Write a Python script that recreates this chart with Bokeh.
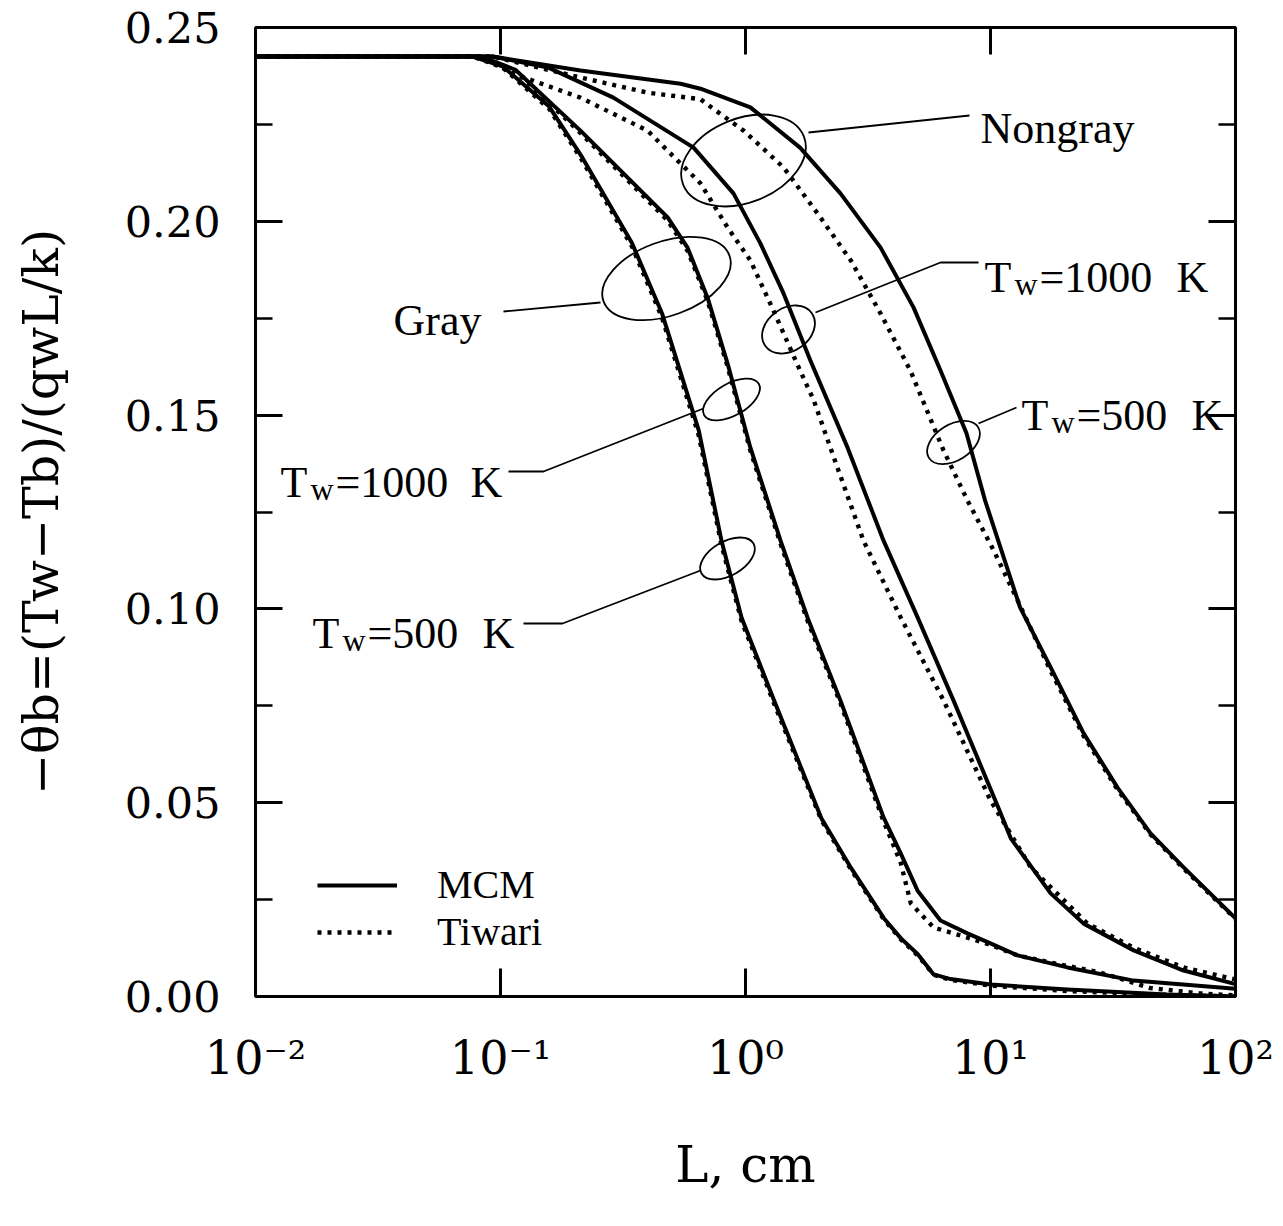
import math
from bokeh.plotting import figure
from bokeh.models import (LogAxis, LinearAxis, FixedTicker, NumeralTickFormatter,
                          CustomJSTickFormatter, Label, Legend, LegendItem)
from bokeh.embed import file_html
from bokeh.resources import INLINE

# ---------------- data: -theta_b versus L (cm) ----------------
# Gray medium, Tw = 500 K
L_gray500_mcm = [0.01, 0.077, 0.102, 0.158, 0.215, 0.344, 0.456, 0.644, 0.798, 0.964, 1.31,
                 2.04, 2.70, 3.67, 4.31, 5.05, 5.86, 6.87, 10.0, 20.6, 52.5, 100.0]
th_gray500_mcm = [0.2425, 0.2425, 0.2400, 0.2296, 0.2166, 0.1944, 0.1763, 0.1461, 0.1176, 0.0977,
                  0.0763, 0.0460, 0.0331, 0.0202, 0.0150, 0.0109, 0.0057, 0.0045, 0.0031, 0.0018,
                  0.0005, 0.0000]
L_gray500_tiw = [0.01, 0.077, 0.102, 0.158, 0.215, 0.344, 0.456, 0.644, 0.798, 0.964, 1.31,
                 2.04, 2.70, 3.67, 4.31, 5.05, 5.86, 6.87, 10.0, 20.6, 52.5, 100.0]
th_gray500_tiw = [0.2425, 0.2425, 0.2397, 0.2290, 0.2158, 0.1935, 0.1752, 0.1448, 0.1165, 0.0968,
                  0.0755, 0.0455, 0.0327, 0.0199, 0.0147, 0.0106, 0.0056, 0.0043, 0.0028, 0.0014,
                  0.0004, 0.0000]
# Gray medium, Tw = 1000 K
L_gray1000_mcm = [0.01, 0.084, 0.115, 0.212, 0.340, 0.481, 0.580, 0.700, 0.845, 1.047, 1.39, 1.79,
                  2.44, 3.66, 4.30, 5.04, 6.25, 8.05, 10.0, 12.9, 20.6, 38.4, 100.0]
th_gray1000_mcm = [0.2425, 0.2425, 0.2391, 0.2234, 0.2105, 0.2010, 0.1932, 0.1803, 0.1633, 0.1416,
                   0.1176, 0.0978, 0.0764, 0.0462, 0.0369, 0.0273, 0.0196, 0.0163, 0.0137, 0.0106,
                   0.0075, 0.0041, 0.0020]
L_gray1000_tiw = [0.01, 0.084, 0.115, 0.212, 0.340, 0.481, 0.580, 0.700, 0.845, 1.047, 1.39, 1.79,
                  2.44, 3.66, 4.30, 4.73, 5.86, 8.05, 10.0, 12.9, 17.5, 28.0, 44.7, 71.4, 100.0]
th_gray1000_tiw = [0.2425, 0.2425, 0.2388, 0.2228, 0.2098, 0.2002, 0.1924, 0.1795, 0.1625, 0.1408,
                   0.1168, 0.0970, 0.0757, 0.0452, 0.0345, 0.0240, 0.0178, 0.0152, 0.0133, 0.0106,
                   0.0088, 0.0062, 0.0022, 0.0008, 0.0003]
# Nongray medium, Tw = 1000 K
L_ng1000_mcm = [0.01, 0.093, 0.156, 0.289, 0.614, 0.893, 1.15, 1.43, 1.84, 2.61, 3.66, 5.04, 7.06,
                10.8, 12.1, 17.6, 24.0, 38.4, 61.4, 100.0]
th_ng1000_mcm = [0.2425, 0.2425, 0.2397, 0.2319, 0.2190, 0.2072, 0.1943, 0.1814, 0.1641, 0.1416,
                 0.1176, 0.0978, 0.0764, 0.0485, 0.0408, 0.0266, 0.0188, 0.0119, 0.0067, 0.0032]
L_ng1000_tiw = [0.01, 0.084, 0.113, 0.212, 0.398, 0.655, 0.845, 1.047, 1.30, 1.67, 1.90, 2.22, 3.03,
                4.30, 6.43, 10.0, 14.6, 24.9, 38.4, 61.4, 100.0]
th_ng1000_tiw = [0.2425, 0.2425, 0.2381, 0.2319, 0.2234, 0.2098, 0.1984, 0.1899, 0.1770, 0.1615,
                 0.1538, 0.1416, 0.1176, 0.0978, 0.0764, 0.0506, 0.0333, 0.0188, 0.0126, 0.0075,
                 0.0044]
# Nongray medium, Tw = 500 K
L_ng500_mcm = [0.01, 0.093, 0.212, 0.543, 0.655, 1.047, 1.67, 2.44, 3.56, 4.85, 6.25, 7.98, 9.5,
               13.2, 17.6, 24.0, 33.0, 45.0, 61.4, 100.0]
th_ng500_mcm = [0.2425, 0.2425, 0.2389, 0.2355, 0.2342, 0.2294, 0.2190, 0.2072, 0.1932, 0.1778,
                0.1615, 0.1453, 0.1280, 0.1004, 0.0849, 0.0679, 0.0539, 0.0421, 0.0333, 0.0202]
L_ng500_tiw = [0.01, 0.093, 0.212, 0.398, 0.655, 0.740, 0.982, 1.43, 1.97, 2.69, 3.56, 4.71, 6.43,
               8.05, 10.3, 12.9, 17.6, 24.0, 33.0, 45.0, 61.4, 100.0]
th_ng500_tiw = [0.2425, 0.2425, 0.2371, 0.2332, 0.2315, 0.2290, 0.2234, 0.2139, 0.2020, 0.1899,
                0.1762, 0.1615, 0.1409, 0.1280, 0.1151, 0.1022, 0.0840, 0.0672, 0.0534, 0.0418,
                0.0330, 0.0200]

x_label_ticks = [0.01, 0.1, 1.0, 10.0, 100.0]
x_tick_labels = ["10\u207b\u00b2", "10\u207b\u00b9", "10\u2070", "10\u00b9", "10\u00b2"]
x_inner_ticks = [0.1, 1.0, 10.0]
y_major_ticks = [0.0, 0.05, 0.10, 0.15, 0.20, 0.25]
y_minor_ticks = [0.025, 0.075, 0.125, 0.175, 0.225]
legend_labels = ["MCM", "Tiwari"]
y_title = "\u2212\u03b8b=(Tw\u2212Tb)/(qwL/k)"
x_title = "L, cm"

# ---------------- figure ----------------
W, H = 1275, 1218
FX0, FX1, FY0, FY1 = 255, 1235, 27, 996      # frame edges (pixels, as in the reference)


def Lx(px):   # reference pixel column -> L
    return 10 ** ((px - FX0) / (FX1 - FX0) * 4 - 2)


def Ty(py):   # reference pixel row -> theta
    return (FY1 - py) / (FY1 - FY0) * 0.25


p = figure(width=W, height=H, x_axis_type="log", x_range=(0.01, 100), y_range=(0, 0.25),
           output_backend="svg", toolbar_location=None,
           min_border_left=FX0, min_border_right=W - FX1,
           min_border_top=FY0, min_border_bottom=H - FY1)
p.grid.visible = False
p.background_fill_color = "white"
p.border_fill_color = "white"
p.outline_line_color = "black"
p.outline_line_width = 3

blank = CustomJSTickFormatter(code="return ''")

# bottom axis
xb = p.xaxis[0]
xb.ticker = FixedTicker(ticks=x_label_ticks, minor_ticks=[])
xb.formatter = CustomJSTickFormatter(args=dict(labels=x_tick_labels),
                                     code="return labels[Math.round(Math.log10(tick)) + 2]")
xb.axis_line_color = None
xb.major_tick_in = 28
xb.major_tick_out = 0
xb.minor_tick_in = 0
xb.minor_tick_out = 0
xb.major_tick_line_width = 3
xb.major_label_standoff = 34
xb.major_label_text_font = "DejaVu Serif"
xb.major_label_text_font_size = "46px"
xb.major_label_text_color = "black"
xb.axis_label = x_title
xb.axis_label_text_font = "DejaVu Serif"
xb.axis_label_text_font_size = "50px"
xb.axis_label_text_font_style = "normal"
xb.axis_label_text_color = "black"
xb.axis_label_standoff = 48

# top axis
xt = LogAxis(ticker=FixedTicker(ticks=x_inner_ticks, minor_ticks=[]), formatter=blank,
             axis_line_color=None, major_tick_in=27, major_tick_out=0,
             minor_tick_in=0, minor_tick_out=0, major_tick_line_width=3,
             major_label_text_font_size="1px", major_label_standoff=0)
p.add_layout(xt, "above")

# left axis
yl = p.yaxis[0]
yl.ticker = FixedTicker(ticks=y_major_ticks, minor_ticks=y_minor_ticks)
yl.formatter = NumeralTickFormatter(format="0.00")
yl.axis_line_color = None
yl.major_tick_in = 27
yl.major_tick_out = 0
yl.minor_tick_in = 17
yl.minor_tick_out = 0
yl.major_tick_line_width = 3
yl.minor_tick_line_width = 2.5
yl.major_label_text_font = "DejaVu Serif"
yl.major_label_text_font_size = "43px"
yl.major_label_text_color = "black"
yl.major_label_standoff = 35
yl.axis_label = y_title
yl.axis_label_text_font = "DejaVu Serif"
yl.axis_label_text_font_size = "49px"
yl.axis_label_text_font_style = "normal"
yl.axis_label_text_color = "black"
yl.axis_label_standoff = 52

# right axis
yr = LinearAxis(ticker=FixedTicker(ticks=y_major_ticks, minor_ticks=y_minor_ticks),
                formatter=blank, axis_line_color=None, major_tick_in=27, major_tick_out=0,
                minor_tick_in=17, minor_tick_out=0, major_tick_line_width=3,
                minor_tick_line_width=2.5, major_label_text_font_size="1px",
                major_label_standoff=0)
p.add_layout(yr, "right")

# ---------------- curves ----------------
solid = dict(line_color="black", line_width=4.0, line_join="round")
dotted = dict(line_color="black", line_width=4.4, line_dash="4 6")

r_mcm = p.line(L_gray500_mcm, th_gray500_mcm, **solid)
r_tiw = p.line(L_gray500_tiw, th_gray500_tiw, **dotted)
p.line(L_gray1000_mcm, th_gray1000_mcm, **solid)
p.line(L_gray1000_tiw, th_gray1000_tiw, **dotted)
p.line(L_ng1000_mcm, th_ng1000_mcm, **solid)
p.line(L_ng1000_tiw, th_ng1000_tiw, **dotted)
p.line(L_ng500_mcm, th_ng500_mcm, **solid)
p.line(L_ng500_tiw, th_ng500_tiw, **dotted)

# ---------------- callouts: ellipses + leader lines ----------------
ell = [  # centre px, width px, height px, tilt deg
    ((743, 160), 130, 84, 22),   # Nongray group
    ((666, 278), 134, 74, 20),   # Gray group
    ((788, 329), 57, 43, 35),    # Nongray Tw=1000
    ((731, 399), 63, 32, 30),    # Gray Tw=1000
    ((727, 558), 60, 34, 30),    # Gray Tw=500
    ((953, 442), 58, 36, 32),    # Nongray Tw=500
]
p.ellipse(x=[Lx(c[0]) for c, *_ in ell], y=[Ty(c[1]) for c, *_ in ell],
          width=[e[1] for e in ell], height=[e[2] for e in ell],
          angle=[math.radians(e[3]) for e in ell],
          width_units="screen", height_units="screen",
          fill_color=None, line_color="black", line_width=1.8)

leaders = [
    [(503, 311), (600, 302)],
    [(808, 132), (969, 115)],
    [(508, 471), (543, 471), (703, 408)],
    [(523, 623), (562, 623), (700, 570)],
    [(978, 262), (940, 262), (815, 312)],
    [(978, 423), (1016, 407)],
]
p.multi_line(xs=[[Lx(a) for a, b in seg] for seg in leaders],
             ys=[[Ty(b) for a, b in seg] for seg in leaders],
             line_color="black", line_width=1.8)

# ---------------- annotation texts ----------------
SERIF = "Liberation Serif"


def lab(px, py, text, size, align="left", font=SERIF):
    p.add_layout(Label(x=Lx(px), y=Ty(py), text=text, text_font=font,
                       text_font_size=f"{size}px", text_align=align,
                       text_baseline="alphabetic", text_color="black"))


lab(393, 320, "Gray", 44)
lab(980, 128, "Nongray", 44)


def tw(px, py, num, kdx):
    lab(px, py, "T", 44)
    lab(px + 30, py + 6, "w", 32)
    lab(px + 55, py, "=" + num, 44)
    lab(px + kdx, py, "K", 44)


tw(280, 482, "1000", 190)
tw(312, 633, "500", 170)
tw(984, 277, "1000", 192)
tw(1021, 415, "500", 170)

# ---------------- legend ----------------
legend = Legend(items=[LegendItem(label=legend_labels[0], renderers=[r_mcm]),
                       LegendItem(label=legend_labels[1], renderers=[r_tiw])],
                location=(62, 41), orientation="vertical", glyph_width=80, glyph_height=20,
                label_standoff=40, spacing=-8, padding=0, margin=0,
                border_line_color=None, background_fill_alpha=0,
                label_text_font=SERIF, label_text_font_size="40px",
                label_text_color="black")
p.add_layout(legend)

open("out.html", "w").write(file_html(p, INLINE))
